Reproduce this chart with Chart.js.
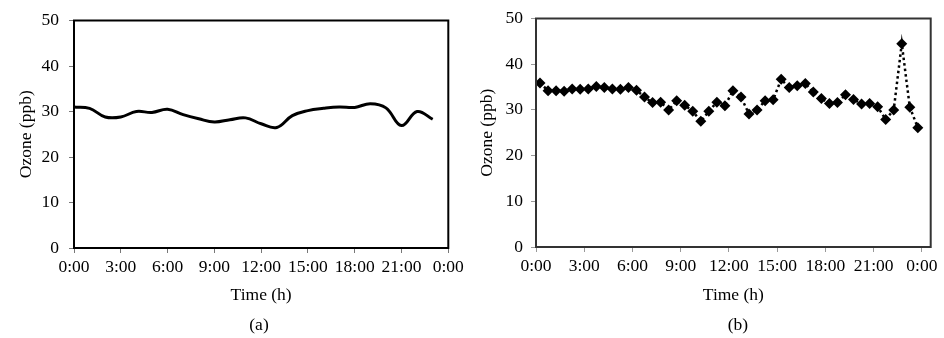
<!DOCTYPE html>
<html>
<head>
<meta charset="utf-8">
<script src="https://cdn.jsdelivr.net/npm/chart.js@4/dist/chart.umd.min.js"></script>
<style>
  body { margin: 0; background: #fff; }
  #wrap { position: relative; width: 944px; height: 338px; }
  #chartA { position: absolute; left: 0; top: 0; }
  #chartB { position: absolute; left: 470px; top: 0; }
  .cap { position: absolute; top: 314px; width: 80px; margin-left: -40px; text-align: center;
         font: 17.5px 'Liberation Serif'; line-height: 21px; color: #000; }
</style>
</head>
<body>
<div id="wrap">
  <canvas id="chartA" width="470" height="338"></canvas>
  <canvas id="chartB" width="474" height="338"></canvas>
  <div class="cap" style="left:259px">(a)</div>
  <div class="cap" style="left:738px">(b)</div>
</div>
<script>
// (a) hourly ozone, smoothed line
var hoursA = [0, 1, 2, 3, 4, 5, 6, 7, 8, 9, 10, 11, 12, 13, 14, 15, 16, 17, 18, 19, 20, 21, 22, 23];
var ozoneA = [31.0, 30.7, 28.8, 28.8, 30.0, 29.8, 30.5, 29.3, 28.4, 27.7, 28.2, 28.6,
              27.3, 26.5, 29.1, 30.2, 30.7, 31.0, 30.9, 31.7, 30.8, 26.9, 30.0, 28.3];

// (b) half-hourly ozone, dotted line with diamonds
var hoursB = [0.25, 0.75, 1.25, 1.75, 2.25, 2.75, 3.25, 3.75, 4.25, 4.75, 5.25, 5.75,
              6.25, 6.75, 7.25, 7.75, 8.25, 8.75, 9.25, 9.75, 10.25, 10.75, 11.25, 11.75,
              12.25, 12.75, 13.25, 13.75, 14.25, 14.75, 15.25, 15.75, 16.25, 16.75, 17.25, 17.75,
              18.25, 18.75, 19.25, 19.75, 20.25, 20.75, 21.25, 21.75, 22.25, 22.75, 23.25, 23.75];
var ozoneB = [35.9, 34.2, 34.2, 34.1, 34.6, 34.5, 34.6, 35.1, 34.9, 34.6, 34.5, 34.9,
              34.3, 32.8, 31.6, 31.7, 30.0, 32.0, 31.0, 29.7, 27.5, 29.7, 31.7, 30.9,
              34.2, 32.8, 29.1, 30.0, 32.0, 32.2, 36.7, 34.9, 35.3, 35.8, 33.9, 32.5,
              31.4, 31.6, 33.3, 32.3, 31.3, 31.4, 30.7, 27.9, 30.0, 44.5, 30.6, 26.1];

var yTicks = [0, 10, 20, 30, 40, 50];
var xTickHours = [0, 3, 6, 9, 12, 15, 18, 21, 24];

var serif = 'Liberation Serif';
Chart.defaults.font.family = serif;
Chart.defaults.font.size = 17.5;
Chart.defaults.color = '#000';

function frame(color) {
  return {
    id: 'frame',
    afterDatasetsDraw: function (chart) {
      var a = chart.chartArea, ctx = chart.ctx;
      ctx.save();
      ctx.strokeStyle = color;
      ctx.lineWidth = 2;
      ctx.strokeRect(a.left, a.top, a.right - a.left, a.bottom - a.top);
      ctx.restore();
    }
  };
}

function timeLabel(v) {
  return (Math.round(v) % 24) + ':00';
}

function makeOptions(o) {
  return {
    responsive: false,
    animation: false,
    devicePixelRatio: 1,
    layout: { padding: { top: o.top, right: o.right, left: 0, bottom: 23.2 } },
    plugins: {
      legend: { display: false },
      tooltip: { enabled: false }
    },
    scales: {
      x: {
        type: 'linear',
        min: 0,
        max: o.xMax,
        afterBuildTicks: function (s) {
          s.ticks = xTickHours.map(function (h) { return { value: h }; });
        },
        ticks: { callback: timeLabel, padding: 4, maxRotation: 0, autoSkip: false },
        grid: { drawOnChartArea: false, drawTicks: true, tickLength: 5, color: o.tickColor },
        border: { display: false },
        title: { display: true, text: 'Time (h)', padding: { top: 0, bottom: 8.6 } },
        afterFit: function (s) { s.height = o.xh; }
      },
      y: {
        min: 0,
        max: 50,
        afterBuildTicks: function (s) {
          s.ticks = yTicks.map(function (v) { return { value: v }; });
        },
        ticks: { padding: o.yPad },
        grid: { drawOnChartArea: false, drawTicks: true, tickLength: 5, color: o.tickColor },
        border: { display: false },
        title: { display: true, text: 'Ozone (ppb)', padding: { top: o.titlePad, bottom: 0 } },
        afterFit: function (s) { s.width = o.yw; }
      }
    }
  };
}

new Chart(document.getElementById('chartA'), {
  type: 'line',
  data: {
    datasets: [{
      data: hoursA.map(function (h, i) { return { x: h, y: ozoneA[i] }; }),
      borderColor: '#000',
      borderWidth: 3,
      tension: 0.4,
      pointRadius: 0,
      fill: false
    }]
  },
  options: makeOptions({ right: 21.7, top: 16, xMax: 24, xh: 66.8, yw: 74, yPad: 10, titlePad: 15.5, tickColor: '#777' }),
  plugins: [frame('#000')]
});

new Chart(document.getElementById('chartB'), {
  type: 'line',
  data: {
    datasets: [{
      data: hoursB.map(function (h, i) { return { x: h, y: ozoneB[i] }; }),
      borderColor: '#000',
      borderWidth: 2.5,
      borderDash: [2.5, 3],
      tension: 0,
      pointStyle: 'rectRot',
      pointRadius: 5.5,
      pointBackgroundColor: '#000',
      pointBorderColor: '#000',
      pointBorderWidth: 0,
      fill: false
    }]
  },
  options: makeOptions({ right: 13.3, top: 17, xMax: 24.55, xh: 67.8, yw: 66, yPad: 8, titlePad: 6.5, tickColor: '#999' }),
  plugins: [frame('#333')]
});
</script>
</body>
</html>
